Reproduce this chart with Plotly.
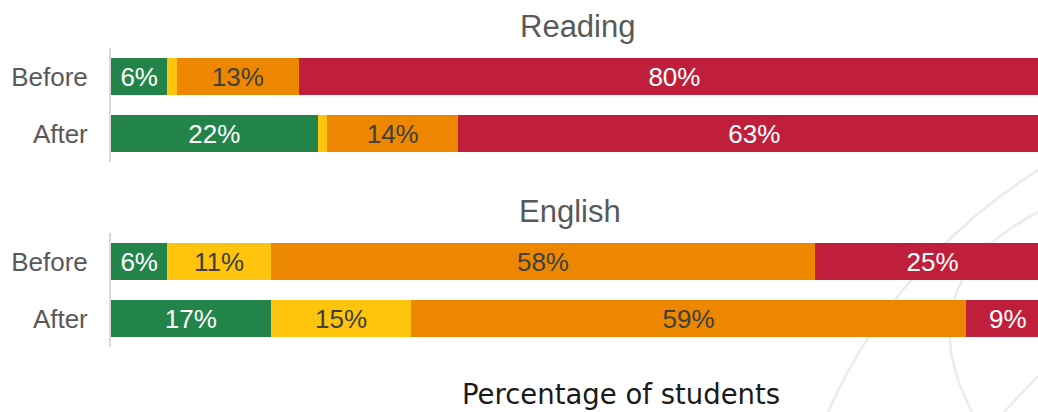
import plotly.graph_objects as go

groups = ["Before", "After"]
subjects = ["Reading", "English"]
bands = ["Band 1", "Band 2", "Band 3", "Band 4"]
colors = ["#23844A", "#FEC50C", "#EE8700", "#C01F3B"]
text_colors = ["#FFFFFF", "#404040", "#404040", "#FFFFFF"]

reading = {
    "Band 1": [6, 22],
    "Band 2": [1, 1],
    "Band 3": [13, 14],
    "Band 4": [80, 63],
}
english = {
    "Band 1": [6, 17],
    "Band 2": [11, 15],
    "Band 3": [58, 59],
    "Band 4": [25, 9],
}
x_label = "Percentage of students"

W, H = 1038, 412
FONT = "Liberation Sans, Arial, sans-serif"
X_MAX = 98.72  # visible part of the 0-100 axis (chart is cropped at the right)

fig = go.Figure()
for data, xa, ya in [(reading, "x", "y"), (english, "x2", "y2")]:
    for band, col, tc in zip(bands, colors, text_colors):
        vals = data[band]
        fig.add_trace(go.Bar(
            y=groups, x=vals, orientation="h",
            marker=dict(color=col, line=dict(width=0)),
            text=[f"{v}%" if v >= 3 else "" for v in vals],
            textposition="inside", insidetextanchor="middle",
            textfont=dict(color=tc, size=26, family=FONT),
            constraintext="none",
            hoverinfo="skip", showlegend=False,
            xaxis=xa, yaxis=ya,
        ))

def py(p):
    return 1 - p / H

yax = dict(
    type="category", range=[1.5, -0.5], showline=True, linecolor="#D9D9D9",
    linewidth=2, ticks="outside", ticklen=16, tickcolor="rgba(0,0,0,0)",
    tickfont=dict(size=26, color="#595959", family=FONT), showgrid=False,
    zeroline=False, fixedrange=True,
)
xax = dict(range=[0, X_MAX], visible=False, showgrid=False, zeroline=False, fixedrange=True)

def arc(d):
    return dict(type="path", xref="paper", yref="paper", path=d,
                line=dict(color="#EBEBEB", width=2.5), layer="below")

def pt(x, y):
    return f"{(x - 111) / 927:.4f},{py(y):.4f}"

shapes = [
    arc(f"M {pt(1038,170)} Q {pt(895,262)} {pt(828,412)}"),
    arc(f"M {pt(1038,212)} Q {pt(905,282)} {pt(972,412)}"),
    arc(f"M {pt(1038,376)} L {pt(1004,412)}"),
]

fig.update_layout(
    width=W, height=H, barmode="stack", bargap=0.35,
    margin=dict(l=111, r=0, t=0, b=0),
    paper_bgcolor="white", plot_bgcolor="rgba(0,0,0,0)",
    xaxis=dict(xax, domain=[0, 1], anchor="y"),
    xaxis2=dict(xax, domain=[0, 1], anchor="y2"),
    yaxis=dict(yax, domain=[py(162), py(48)], anchor="x"),
    yaxis2=dict(yax, domain=[py(347), py(233)], anchor="x2"),
    shapes=shapes,
    annotations=[
        dict(text=subjects[0], x=(577 - 111) / 927, y=py(27), xref="paper", yref="paper",
             xanchor="center", yanchor="middle", showarrow=False,
             font=dict(size=31, color="#595959", family=FONT)),
        dict(text=subjects[1], x=(570 - 111) / 927, y=py(211), xref="paper", yref="paper",
             xanchor="center", yanchor="middle", showarrow=False,
             font=dict(size=31, color="#595959", family=FONT)),
        dict(text=x_label, x=(621 - 111) / 927, y=py(394), xref="paper", yref="paper",
             xanchor="center", yanchor="middle", showarrow=False,
             font=dict(size=27.5, color="#1A1A1A", family="DejaVu Sans, sans-serif")),
    ],
)

fig.write_html("out.html", config={"displayModeBar": False},
               post_script="document.body.style.margin='0';document.body.style.padding='0';")
